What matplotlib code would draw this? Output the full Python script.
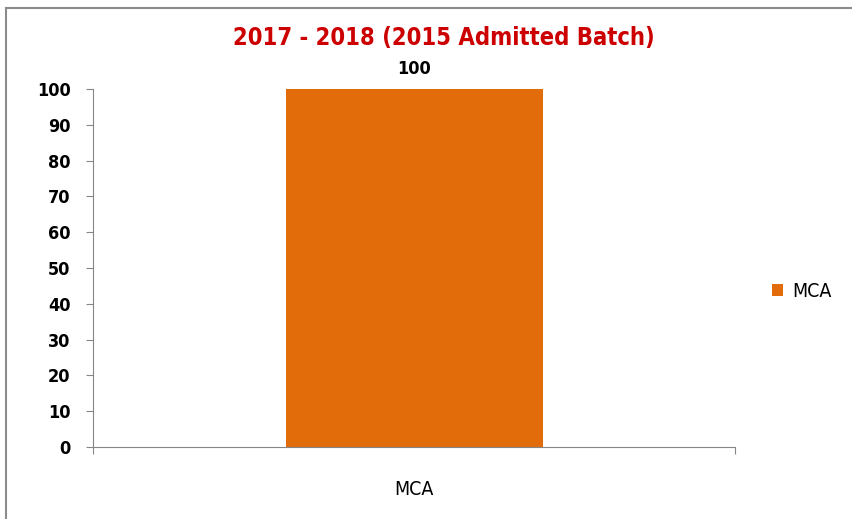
import matplotlib.pyplot as plt
from matplotlib.lines import Line2D

categories = ["MCA"]
values = [100]
title = "2017 - 2018 (2015 Admitted Batch)"
yticks = [0, 10, 20, 30, 40, 50, 60, 70, 80, 90, 100]

bar_color = "#E36C0A"
axis_color = "#868686"
fam = ["DejaVu Sans"]
st = "condensed"

fig = plt.figure(figsize=(8.52, 5.19), dpi=100)
ax = fig.add_axes([0.109, 0.1387, 0.754, 0.6898])

ax.bar(range(len(categories)), values, width=0.4, color=bar_color, label=categories[0])
ax.set_xlim(-0.5, len(categories) - 0.5)
ax.set_ylim(0, 100)
ax.set_yticks(yticks)
ax.set_yticklabels([str(v) for v in yticks], fontsize=13, fontweight="bold", family=fam, stretch=st)
ax.set_xticks([-0.5, len(categories) - 0.5])
ax.set_xticklabels([])
ax.text(0, -0.12, categories[0], transform=ax.get_xaxis_transform(), ha="center", va="center",
        fontsize=14, family=fam, stretch=st)

for i, v in enumerate(values):
    ax.annotate(str(v), (i, v), xytext=(0, 8), textcoords="offset points", ha="center",
                va="bottom", fontsize=13, fontweight="bold", family=fam, stretch=st)

for s in ["top", "right"]:
    ax.spines[s].set_visible(False)
for s in ["left", "bottom"]:
    ax.spines[s].set_color(axis_color)
ax.tick_params(axis="both", colors=axis_color, length=5, labelcolor="black")
ax.tick_params(axis="y", pad=11)

fig.text(0.521, 0.927, title, ha="center", va="center", fontsize=17, fontweight="bold",
         color="#CC0000", family=fam, stretch=st)

ax.legend(loc="center left", bbox_to_anchor=(1.03, 0.435), frameon=False, handlelength=0.55,
          handleheight=0.55, handletextpad=0.5, prop={"family": fam, "size": 14, "stretch": st})

# frame around the chart (only top and left visible in the picture)
fig.add_artist(Line2D([0.007, 1.0], [0.984, 0.984], transform=fig.transFigure, color="#8c8c8c", lw=1.5))
fig.add_artist(Line2D([0.007, 0.007], [0.0, 0.984], transform=fig.transFigure, color="#8c8c8c", lw=1.5))

fig.savefig("out.png", dpi=100)
